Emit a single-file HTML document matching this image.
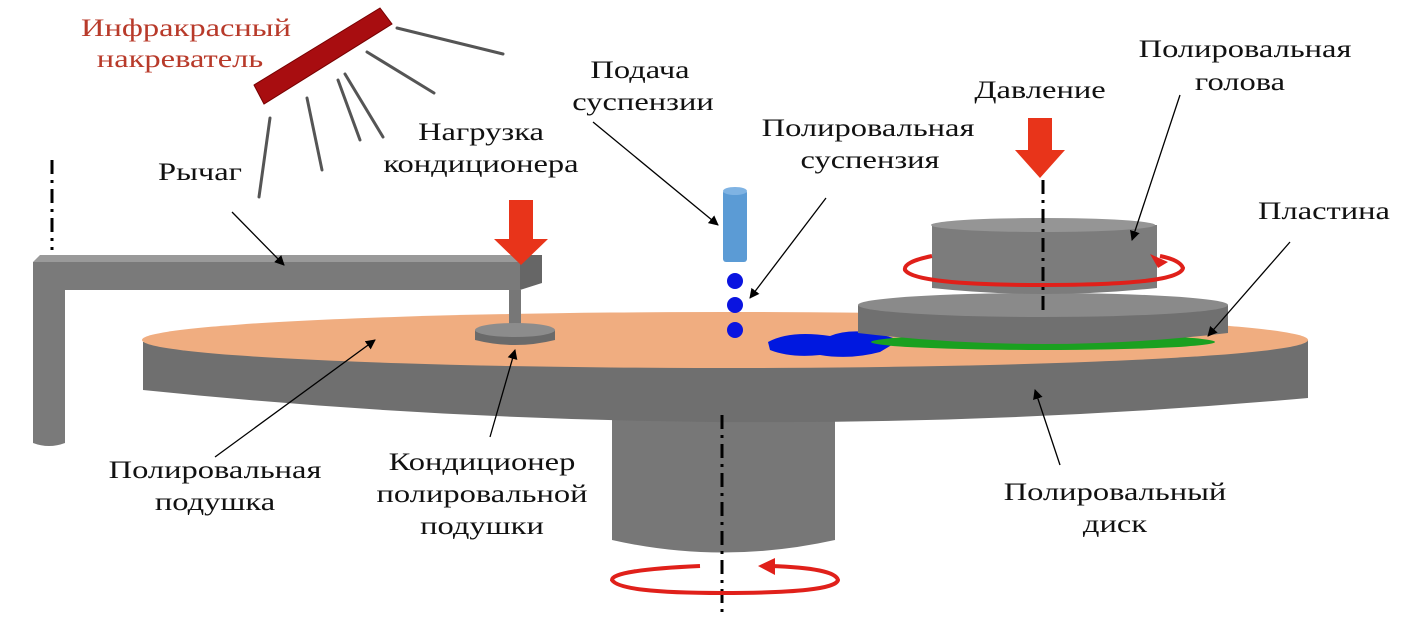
<!DOCTYPE html>
<html><head><meta charset="utf-8"><style>
html,body{margin:0;padding:0;background:#fff;}
svg{display:block;}
text{font-family:"Liberation Serif",serif;font-size:25px;fill:#111;text-anchor:middle;}
</style></head><body>
<svg width="1407" height="637" viewBox="0 0 1407 637" xmlns="http://www.w3.org/2000/svg">
<defs>
<marker id="ah" markerWidth="10" markerHeight="10" refX="9" refY="5" orient="auto" markerUnits="userSpaceOnUse"><path d="M0,0 L10,5 L0,10 z" fill="#000"/></marker>
</defs>
<!-- heater -->
<g stroke="#555" stroke-width="3" stroke-linecap="round">
<line x1="270" y1="118" x2="259" y2="197"/>
<line x1="307" y1="98" x2="322" y2="170"/>
<line x1="338" y1="80" x2="360" y2="140"/>
<line x1="345" y1="74" x2="383" y2="137"/>
<line x1="367" y1="52" x2="434" y2="93"/>
<line x1="397" y1="28" x2="503" y2="54"/>
</g>
<polygon points="254,85 380,8 392,24 264,104" fill="#a80d10" stroke="#700" stroke-width="1"/>
<!-- dashed axis left -->
<line x1="52" y1="160" x2="52" y2="250" stroke="#000" stroke-width="3" stroke-dasharray="14,6,3,6"/>
<!-- spindle -->
<path d="M612,405 L612,540 Q722,565 835,540 L835,405 z" fill="#777"/>
<!-- disk side -->
<path d="M143,342 L143,390 Q725,450 1308,398 L1308,340 z" fill="#6f6f6f"/>
<ellipse cx="725" cy="340" rx="583" ry="28" fill="#f0ad80"/>
<!-- slurry blob -->
<path d="M768,342 Q790,330 830,336 Q850,328 880,334 L900,340 L880,352 Q850,360 820,355 Q790,358 770,350 z" fill="#0018e0"/>
<!-- wafer -->
<ellipse cx="1043" cy="342" rx="172" ry="8" fill="#1aa020"/>
<!-- head lower -->
<path d="M858,305 L858,333 Q1043,355 1228,333 L1228,305 z" fill="#707070"/>
<ellipse cx="1043" cy="305" rx="185" ry="12" fill="#8a8a8a"/>
<!-- head upper -->
<path d="M932,225 L932,288 Q1043,300 1157,288 L1157,225 z" fill="#7c7c7c"/>
<ellipse cx="1043" cy="225" rx="112" ry="7" fill="#959595"/>
<!-- head rotation -->
<path d="M932,256 Q903,262 905,270 Q915,285 1043,285 Q1180,285 1183,268 Q1180,260 1160,256" fill="none" stroke="#e0201a" stroke-width="4"/>
<path d="M1150,254 L1168,262 L1158,268 z" fill="#e0201a"/>
<line x1="1043" y1="180" x2="1043" y2="315" stroke="#000" stroke-width="3" stroke-dasharray="14,6,3,6"/>
<!-- pressure arrow -->
<rect x="1028" y="118" width="24" height="33" fill="#e8341a"/>
<polygon points="1015,150 1065,150 1040,178" fill="#e8341a"/>
<!-- bottom axis + rotation -->
<line x1="722" y1="415" x2="722" y2="612" stroke="#000" stroke-width="3" stroke-dasharray="14,6,3,6"/>
<path d="M700,566 Q612,570 612,580 Q620,593 722,593 Q835,593 838,580 Q835,568 770,566" fill="none" stroke="#e0201a" stroke-width="4"/>
<path d="M758,566 L775,558 L775,575 z" fill="#e0201a"/>
<!-- arm -->
<path d="M33,262 L33,443 Q49,449 65,443 L65,290 L520,290 L520,262 z" fill="#7a7a7a"/>
<polygon points="33,262 40,255 528,255 520,262" fill="#9a9a9a"/>
<polygon points="520,262 528,255 542,255 542,283 520,290" fill="#666"/>
<rect x="509" y="290" width="12" height="38" fill="#777"/>
<path d="M475,330 L475,340 Q515,350 555,340 L555,330 z" fill="#6a6a6a"/>
<ellipse cx="515" cy="330" rx="40" ry="7" fill="#8c8c8c"/>
<!-- conditioner arrow -->
<rect x="509" y="200" width="24" height="40" fill="#e8341a"/>
<polygon points="494,239 548,239 521,265" fill="#e8341a"/>
<!-- nozzle -->
<rect x="723" y="190" width="24" height="72" rx="3" fill="#5b9bd5"/>
<ellipse cx="735" cy="191" rx="12" ry="4" fill="#7fb3e3"/>
<circle cx="735" cy="281" r="8" fill="#0a14e0"/>
<circle cx="735" cy="305" r="8" fill="#0a14e0"/>
<circle cx="735" cy="330" r="8" fill="#0a14e0"/>
<!-- leaders -->
<g stroke="#000" stroke-width="1.3" fill="none" marker-end="url(#ah)">
<line x1="232" y1="212" x2="284" y2="265"/>
<line x1="593" y1="122" x2="718" y2="225"/>
<line x1="826" y1="198" x2="750" y2="298"/>
<line x1="1180" y1="95" x2="1132" y2="240"/>
<line x1="1290" y1="242" x2="1208" y2="336"/>
<line x1="215" y1="457" x2="375" y2="340"/>
<line x1="490" y1="437" x2="515" y2="350"/>
<line x1="1060" y1="465" x2="1035" y2="390"/>
</g>
<!-- labels -->
<g transform="translate(186,36) scale(1.3,1)"><text style="fill:#b83a2a">Инфракрасный</text></g>
<g transform="translate(180,67) scale(1.3,1)"><text style="fill:#b83a2a">накреватель</text></g>
<g transform="translate(200,180) scale(1.3,1)"><text>Рычаг</text></g>
<g transform="translate(481,140) scale(1.3,1)"><text>Нагрузка</text></g>
<g transform="translate(481,172) scale(1.3,1)"><text>кондиционера</text></g>
<g transform="translate(640,78) scale(1.3,1)"><text>Подача</text></g>
<g transform="translate(643,110) scale(1.3,1)"><text>суспензии</text></g>
<g transform="translate(868,136) scale(1.3,1)"><text>Полировальная</text></g>
<g transform="translate(870,168) scale(1.3,1)"><text>суспензия</text></g>
<g transform="translate(1040,98) scale(1.3,1)"><text>Давление</text></g>
<g transform="translate(1245,57) scale(1.3,1)"><text>Полировальная</text></g>
<g transform="translate(1240,90) scale(1.3,1)"><text>голова</text></g>
<g transform="translate(1324,219) scale(1.3,1)"><text>Пластина</text></g>
<g transform="translate(215,478) scale(1.3,1)"><text>Полировальная</text></g>
<g transform="translate(215,510) scale(1.3,1)"><text>подушка</text></g>
<g transform="translate(482,470) scale(1.3,1)"><text>Кондиционер</text></g>
<g transform="translate(482,502) scale(1.3,1)"><text>полировальной</text></g>
<g transform="translate(482,534) scale(1.3,1)"><text>подушки</text></g>
<g transform="translate(1115,500) scale(1.3,1)"><text>Полировальный</text></g>
<g transform="translate(1115,532) scale(1.3,1)"><text>диск</text></g>
</svg>
</body></html>
